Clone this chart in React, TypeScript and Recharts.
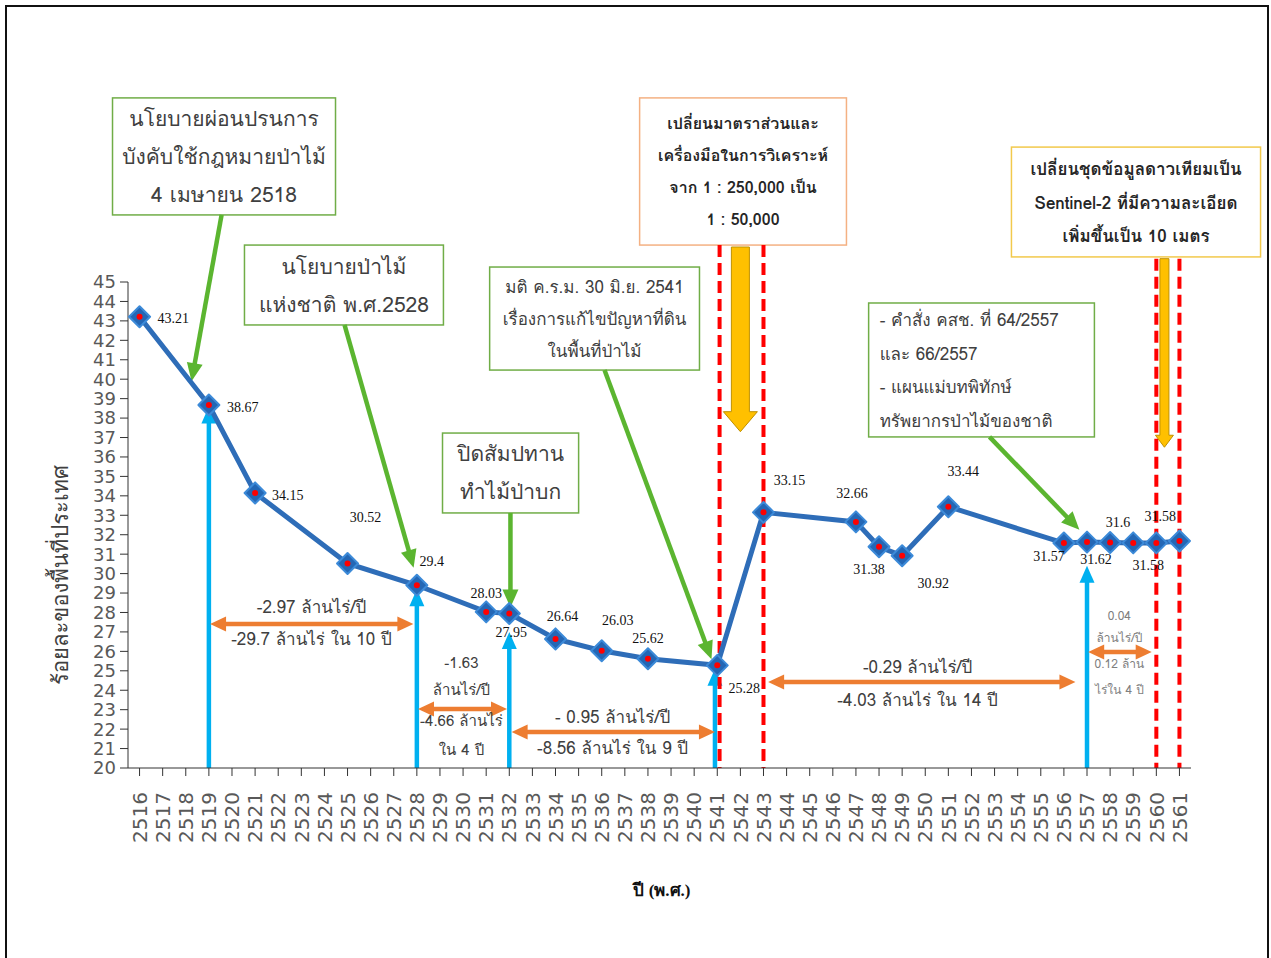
import React from 'react';
import { LineChart, Line, XAxis, YAxis, ReferenceLine, ReferenceArea, ReferenceDot } from 'recharts';

// ปีที่มีข้อมูล (พ.ศ.) และร้อยละพื้นที่ป่าไม้ของประเทศ
const years = [2516, 2519, 2521, 2525, 2528, 2531, 2532, 2534, 2536, 2538, 2541, 2543, 2547, 2548, 2549, 2551, 2556, 2557, 2558, 2559, 2560, 2561];
const forestShare = [43.21, 38.67, 34.15, 30.52, 29.4, 28.03, 27.95, 26.64, 26.03, 25.62, 25.28, 33.15, 32.66, 31.38, 30.92, 33.44, 31.57, 31.62, 31.6, 31.58, 31.58, 31.68];

const xTicks = [2516, 2517, 2518, 2519, 2520, 2521, 2522, 2523, 2524, 2525, 2526, 2527, 2528, 2529, 2530, 2531, 2532, 2533, 2534, 2535, 2536, 2537, 2538, 2539, 2540, 2541, 2542, 2543, 2544, 2545, 2546, 2547, 2548, 2549, 2550, 2551, 2552, 2553, 2554, 2555, 2556, 2557, 2558, 2559, 2560, 2561];
const yTicks = [20, 21, 22, 23, 24, 25, 26, 27, 28, 29, 30, 31, 32, 33, 34, 35, 36, 37, 38, 39, 40, 41, 42, 43, 44, 45];

// ปีที่มีนโยบาย / เปลี่ยนวิธีการ
const policyYears = [2519, 2528, 2532, 2541, 2557];
const policyTops = [38.6, 29.2, 27.0, 25.1, 30.4];
const methodBreakYears = [2541, 2543, 2560, 2561];
const methodBreakTops = [46.9, 46.9, 46.2, 46.2];

const data = years.map((year, i) => ({ year, value: forestShare[i] }));

// where each value label sits relative to its marker: [dx, dy, anchor]
const labelPlace: [number, number, string][] = [
  [18, 1, 'start'], [18, 2, 'start'], [17, 2, 'start'], [18, -46, 'middle'], [15, -24, 'middle'],
  [0, -19, 'middle'], [2, 19, 'middle'], [7, -23, 'middle'], [16, -31, 'middle'], [0, -21, 'middle'],
  [27, 23, 'middle'], [26, -32, 'middle'], [-4, -29, 'middle'], [-10, 22, 'middle'], [31, 27, 'middle'],
  [15, -36, 'middle'], [-15, 13, 'middle'], [9, 17, 'middle'], [8, -20, 'middle'], [15, 22, 'middle'],
  [4, -27, 'middle'], [13, -12, 'start'],
];

const THAI = "Tahoma, 'Leelawadee UI', Loma, Garuda, 'Noto Sans Thai', 'DejaVu Sans', sans-serif";
const SERIF = "'Liberation Serif', 'Times New Roman', serif";
const LINE_BLUE = '#2E6DB8';
const CYAN = '#00B0F0';
const ORANGE = '#ED7D31';
const GREEN = '#5BB530';
const RED = '#FF0000';
const TEXT_GRAY = '#404040';

const boxes = [
  { x1: 2514.83, x2: 2524.48, y1: 48.45, y2: 54.47, stroke: '#70AD47', size: 21, gap: 38, align: 'middle', bold: false,
    lines: ['นโยบายผ่อนปรนการ', 'บังคับใช้กฎหมายป่าไม้', '4 เมษายน 2518'] },
  { x1: 2520.54, x2: 2529.15, y1: 42.79, y2: 46.9, stroke: '#70AD47', size: 21, gap: 38, align: 'middle', bold: false,
    lines: ['นโยบายป่าไม้', 'แห่งชาติ พ.ศ.2528'] },
  { x1: 2531.15, x2: 2540.23, y1: 40.47, y2: 45.77, stroke: '#70AD47', size: 17, gap: 32, align: 'middle', bold: false,
    lines: ['มติ ค.ร.ม. 30 มิ.ย. 2541', 'เรื่องการแก้ไขปัญหาที่ดิน', 'ในพื้นที่ป่าไม้'] },
  { x1: 2529.11, x2: 2535.0, y1: 33.12, y2: 37.23, stroke: '#70AD47', size: 21, gap: 38, align: 'middle', bold: false,
    lines: ['ปิดสัมปทาน', 'ทำไม้ป่าบก'] },
  { x1: 2537.64, x2: 2546.59, y1: 46.9, y2: 54.47, stroke: '#F4B183', size: 16, gap: 32, align: 'middle', bold: true,
    lines: ['เปลี่ยนมาตราส่วนและ', 'เครื่องมือในการวิเคราะห์', 'จาก 1 : 250,000 เป็น', '1 : 50,000'] },
  { x1: 2553.73, x2: 2564.51, y1: 46.29, y2: 51.94, stroke: '#F2C94C', size: 17, gap: 33.5, align: 'middle', bold: true,
    lines: ['เปลี่ยนชุดข้อมูลดาวเทียมเป็น', 'Sentinel-2  ที่มีความละเอียด', 'เพิ่มขึ้นเป็น  10 เมตร'] },
  { x1: 2547.55, x2: 2557.32, y1: 37.03, y2: 43.92, stroke: '#70AD47', size: 17, gap: 33.6, align: 'start', bold: false,
    lines: ['- คำสั่ง คสช. ที่ 64/2557', 'และ 66/2557', '- แผนแม่บทพิทักษ์', 'ทรัพยากรป่าไม้ของชาติ'] },
];

const pointers = [
  { from: [2519.55, 48.45], to: [2518.25, 39.9] },
  { from: [2524.87, 42.79], to: [2527.86, 30.3] },
  { from: [2536.12, 40.47], to: [2540.75, 25.6] },
  { from: [2532.05, 33.12], to: [2532.05, 28.25] },
  { from: [2552.78, 37.03], to: [2556.67, 32.25] },
];

const spans = [
  { from: 2519.05, to: 2527.85, y: 27.41 },
  { from: 2528.05, to: 2531.9, y: 23.03 },
  { from: 2532.1, to: 2540.9, y: 21.85 },
  { from: 2543.2, to: 2556.5, y: 24.42 },
  { from: 2557.05, to: 2559.8, y: 25.97 },
];

const spanNotes = [
  { x: 2523.44, y: 28.33, text: '-2.97 ล้านไร่/ปี', size: 17, color: TEXT_GRAY },
  { x: 2523.44, y: 26.64, text: '-29.7 ล้านไร่ ใน 10 ปี', size: 17, color: TEXT_GRAY },
  { x: 2529.93, y: 25.4, text: '-1.63', size: 15, color: TEXT_GRAY },
  { x: 2529.93, y: 24.01, text: 'ล้านไร่/ปี', size: 15, color: TEXT_GRAY },
  { x: 2529.93, y: 22.42, text: '-4.66 ล้านไร่', size: 15, color: TEXT_GRAY },
  { x: 2529.93, y: 20.93, text: 'ใน 4 ปี', size: 15, color: TEXT_GRAY },
  { x: 2536.47, y: 22.67, text: '- 0.95 ล้านไร่/ปี', size: 17, color: TEXT_GRAY },
  { x: 2536.47, y: 21.03, text: '-8.56 ล้านไร่ ใน 9 ปี', size: 17, color: TEXT_GRAY },
  { x: 2549.67, y: 25.2, text: '-0.29 ล้านไร่/ปี', size: 17, color: TEXT_GRAY },
  { x: 2549.67, y: 23.5, text: '-4.03 ล้านไร่ ใน 14 ปี', size: 17, color: TEXT_GRAY },
  { x: 2558.4, y: 27.87, text: '0.04', size: 12, color: '#7F7F7F' },
  { x: 2558.4, y: 26.69, text: 'ล้านไร่/ปี', size: 12, color: '#7F7F7F' },
  { x: 2558.4, y: 25.35, text: '0.12 ล้าน', size: 12, color: '#7F7F7F' },
  { x: 2558.4, y: 24.06, text: 'ไร่ใน 4 ปี', size: 12, color: '#7F7F7F' },
];

const arrowParts = (x1: number, y1: number, x2: number, y2: number, color: string, w: number, hl: number, hw: number, both: boolean) => {
  const len = Math.hypot(x2 - x1, y2 - y1) || 1;
  const ux = (x2 - x1) / len;
  const uy = (y2 - y1) / len;
  const px = -uy;
  const py = ux;
  const head = (tx: number, ty: number, dx: number, dy: number) => {
    const bx = tx - dx * hl;
    const by = ty - dy * hl;
    return `${tx},${ty} ${bx + px * hw / 2},${by + py * hw / 2} ${bx - px * hw / 2},${by - py * hw / 2}`;
  };
  const sx = both ? x1 + ux * hl * 0.9 : x1;
  const sy = both ? y1 + uy * hl * 0.9 : y1;
  return (
    <g>
      <line x1={sx} y1={sy} x2={x2 - ux * hl * 0.9} y2={y2 - uy * hl * 0.9} stroke={color} strokeWidth={w} />
      <polygon points={head(x2, y2, ux, uy)} fill={color} />
      {both && <polygon points={head(x1, y1, -ux, -uy)} fill={color} />}
    </g>
  );
};

const arrowShape = (color: string, w: number, hl: number, hw: number, both = false) => (p: any) =>
  arrowParts(p.x1, p.y1, p.x2, p.y2, color, w, hl, hw, both);

const blockArrow = (sw: number, hw: number, hl: number) => (p: any) => {
  const x = p.x1;
  const top = Math.min(p.y1, p.y2);
  const tip = Math.max(p.y1, p.y2);
  const pts = [
    [x - sw / 2, top], [x + sw / 2, top], [x + sw / 2, tip - hl], [x + hw / 2, tip - hl],
    [x, tip], [x - hw / 2, tip - hl], [x - sw / 2, tip - hl],
  ].map((q) => q.join(',')).join(' ');
  return <polygon points={pts} fill="#FFC000" stroke="#BF9000" strokeWidth={1} />;
};

const boxShape = (b: any) => (p: any) => {
  const { x, y, width, height } = p;
  const n = b.lines.length;
  const first = y + height / 2 - ((n - 1) * b.gap) / 2;
  return (
    <g>
      <rect x={x} y={y} width={width} height={height} fill="#fff" stroke={b.stroke} strokeWidth={1.5} />
      {b.lines.map((t: string, i: number) => (
        <text key={i} x={b.align === 'start' ? x + 11 : x + width / 2} y={first + i * b.gap}
          textAnchor={b.align} dominantBaseline="central" fontFamily={THAI} fontSize={b.size}
          fontWeight={b.bold ? 'bold' : 'normal'} fill={b.bold ? '#262626' : TEXT_GRAY}>
          {t}
        </text>
      ))}
    </g>
  );
};

const noteShape = (n: any) => (p: any) => (
  <text x={p.cx} y={p.cy} textAnchor="middle" dominantBaseline="central" fontFamily={THAI} fontSize={n.size} fill={n.color}>
    {n.text}
  </text>
);

const renderDot = (p: any) => {
  const { cx, cy, index, value } = p;
  const [dx, dy, anchor] = labelPlace[index] || [0, -20, 'middle'];
  const s = 10.5;
  return (
    <g key={`dot-${index}`}>
      <polygon points={`${cx},${cy - s} ${cx + s},${cy} ${cx},${cy + s} ${cx - s},${cy}`} fill="#2467B5" stroke="#3C8AD8" strokeWidth={2} strokeLinejoin="round" />
      <circle cx={cx} cy={cy} r={3} fill={RED} />
      <text x={cx + dx} y={cy + dy} dy="0.35em" textAnchor={anchor as any} fontFamily={SERIF} fontSize={14} fill="#111">
        {value}
      </text>
    </g>
  );
};

const XTick = (p: any) => {
  const { x, y, payload } = p;
  return (
    <text x={x} y={y} transform={`rotate(-90 ${x} ${y})`} textAnchor="end" dy="0.36em" fontFamily="'DejaVu Sans', sans-serif" fontSize={20} fill="#595959">
      {payload.value}
    </text>
  );
};

export default function App() {
  return (
    <div style={{ position: 'absolute', left: 0, top: 0, width: 1271, height: 958, background: '#fff', overflow: 'hidden' }}>
      <div style={{ position: 'absolute', left: 5, top: 5, width: 1260, height: 960, border: '2px solid #111' }} />
      <div style={{ position: 'absolute', left: 0, top: 0 }}>
        <LineChart width={1271} height={958} data={data} margin={{ top: 282, right: 80, bottom: 120, left: 78 }}>
          <XAxis type="number" dataKey="year" domain={[2515.5, 2561.5]} ticks={xTicks} interval={0} height={70}
            tickSize={8} tickMargin={16} tick={<XTick />} stroke="#333" allowDataOverflow />
          <YAxis type="number" domain={[20, 45]} ticks={yTicks} interval={0} width={50} tickSize={8} tickMargin={4}
            tick={{ fill: '#595959', fontSize: 18, fontFamily: "'DejaVu Sans', sans-serif" }} stroke="#333" allowDataOverflow />

          {policyYears.map((yr, i) => (
            <ReferenceLine key={`p${yr}`} segment={[{ x: yr === 2541 ? 2540.9 : yr, y: 20 }, { x: yr === 2541 ? 2540.9 : yr, y: policyTops[i] }]}
              ifOverflow="visible" shape={arrowShape(CYAN, 4.5, 17, 15)} />
          ))}
          {methodBreakYears.map((yr, i) => (
            <ReferenceLine key={`m${yr}`} segment={[{ x: yr === 2541 ? 2541.1 : yr, y: methodBreakTops[i] }, { x: yr === 2541 ? 2541.1 : yr, y: 20 }]}
              ifOverflow="visible" stroke={RED} strokeWidth={4} strokeDasharray="12 6" />
          ))}
          {spans.map((s, i) => (
            <ReferenceLine key={`s${i}`} segment={[{ x: s.from, y: s.y }, { x: s.to, y: s.y }]}
              ifOverflow="visible" shape={arrowShape(ORANGE, 4.5, 16, 15, true)} />
          ))}
          {spanNotes.map((n, i) => (
            <ReferenceDot key={`n${i}`} x={n.x} y={n.y} r={1} ifOverflow="visible" shape={noteShape(n)} />
          ))}

          <ReferenceLine segment={[{ x: 2542, y: 46.8 }, { x: 2542, y: 37.3 }]} ifOverflow="visible" shape={blockArrow(18, 34, 20)} />
          <ReferenceLine segment={[{ x: 2560.35, y: 46.2 }, { x: 2560.35, y: 36.5 }]} ifOverflow="visible" shape={blockArrow(9, 18, 12)} />

          {boxes.map((b, i) => (
            <ReferenceArea key={`b${i}`} x1={b.x1} x2={b.x2} y1={b.y1} y2={b.y2} ifOverflow="visible" shape={boxShape(b)} />
          ))}
          {pointers.map((a, i) => (
            <ReferenceLine key={`a${i}`} segment={[{ x: a.from[0], y: a.from[1] }, { x: a.to[0], y: a.to[1] }]}
              ifOverflow="visible" shape={arrowShape(GREEN, 4.5, 18, 16)} />
          ))}

          <Line type="linear" dataKey="value" stroke={LINE_BLUE} strokeWidth={5} dot={renderDot} activeDot={false} isAnimationActive={false} />
        </LineChart>
      </div>
      <svg width={1271} height={958} style={{ position: 'absolute', left: 0, top: 0, pointerEvents: 'none' }}>
        <text x={60} y={575} transform="rotate(-90 60 575)" textAnchor="middle" dominantBaseline="central" fontFamily={THAI} fontSize={22} fill={TEXT_GRAY}>
          ร้อยละของพื้นที่ประเทศ
        </text>
        <text x={662} y={890} textAnchor="middle" dominantBaseline="central" fontFamily={SERIF} fontWeight="bold" fontSize={17} fill="#111">
          ปี (พ.ศ.)
        </text>
      </svg>
    </div>
  );
}
